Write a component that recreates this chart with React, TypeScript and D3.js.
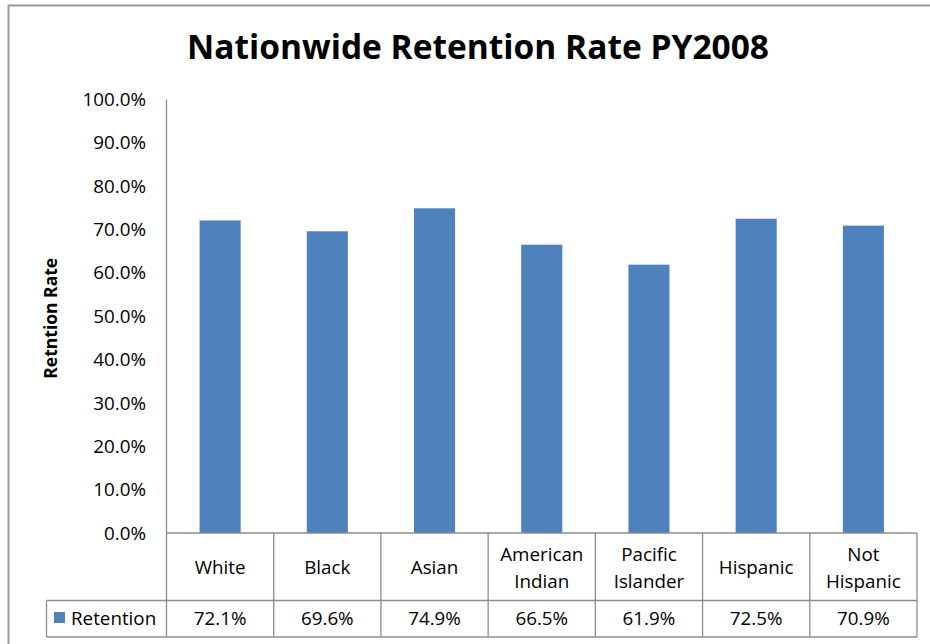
import React from "react";
import * as d3 from "d3";

const categories: string[][] = [
  ["White"],
  ["Black"],
  ["Asian"],
  ["American", "Indian"],
  ["Pacific", "Islander"],
  ["Hispanic"],
  ["Not", "Hispanic"],
];
const retention: number[] = [0.721, 0.696, 0.749, 0.665, 0.619, 0.725, 0.709];
const yTicks: number[] = [0, 0.1, 0.2, 0.3, 0.4, 0.5, 0.6, 0.7, 0.8, 0.9, 1.0];
const seriesName = "Retention";
const title = "Nationwide Retention Rate PY2008";
const yTitle = "Retntion Rate";

const W = 930;
const H = 644;
const plotL = 166.5;
const plotR = 917;
const plotT = 99.5;
const plotB = 533;
const row1B = 600.5;
const row2B = 637;
const legendL = 46.5;
const FONT = "'Open Sans', 'Liberation Sans', Arial, sans-serif";
const BAR = "#4F81BD";
const LINE = "#8C8C8C";
const FS = 18.8;

export default function App() {
  const keys = categories.map((c) => c.join(" "));
  const xCol = d3.scaleBand<string>().domain(keys).range([plotL, plotR]).padding(0);
  const xBar = d3
    .scaleBand<string>()
    .domain(keys)
    .range([plotL, plotR])
    .paddingInner(0.617)
    .paddingOuter(0.3085);
  const y = d3.scaleLinear().domain([0, 1]).range([plotB, plotT]);
  const fmt = d3.format(".1%");

  return (
    <svg
      width={W}
      height={H}
      style={{ position: "absolute", left: 0, top: 0, background: "#fff" }}
      fontFamily={FONT}
    >
      <rect x={0} y={0} width={W} height={H} fill="#fff" />
      {/* outer chart border */}
      <rect x={8.5} y={5.5} width={W + 20} height={H + 20} fill="none" stroke="#9A9A9A" strokeWidth={2} />

      {/* title */}
      <text x={478} y={58.5} textAnchor="middle" fontSize={33.5} fontWeight="bold" fill="#000">
        {title}
      </text>

      {/* y-axis title */}
      <text
        transform={`translate(57, ${(plotT + plotB) / 2 + 2}) rotate(-90)`}
        textAnchor="middle"
        fontSize={17.5}
        fontWeight="bold"
        fill="#000"
      >
        {yTitle}
      </text>

      {/* y tick labels */}
      {yTicks.map((t) => (
        <text
          key={t}
          x={146}
          y={y(t)}
          dy="0.35em"
          textAnchor="end"
          fontSize={FS}
          fill="#000"
        >
          {fmt(t)}
        </text>
      ))}

      {/* bars */}
      {keys.map((k, i) => (
        <rect
          key={k}
          x={xBar(k)}
          y={y(retention[i])}
          width={xBar.bandwidth()}
          height={plotB - y(retention[i])}
          fill={BAR}
        />
      ))}

      {/* y axis line */}
      <line x1={plotL} x2={plotL} y1={plotT} y2={row2B} stroke={LINE} strokeWidth={1.3} />

      {/* data table */}
      <line x1={plotL} x2={plotR} y1={plotB} y2={plotB} stroke={LINE} strokeWidth={1.3} />
      <line x1={legendL} x2={plotR} y1={row1B} y2={row1B} stroke={LINE} strokeWidth={1.3} />
      <line x1={legendL} x2={plotR} y1={row2B} y2={row2B} stroke={LINE} strokeWidth={1.3} />
      <line x1={legendL} x2={legendL} y1={row1B} y2={row2B} stroke={LINE} strokeWidth={1.3} />
      {keys.map((k) => (
        <line
          key={"v" + k}
          x1={(xCol(k) as number) + xCol.bandwidth()}
          x2={(xCol(k) as number) + xCol.bandwidth()}
          y1={plotB}
          y2={row2B}
          stroke={LINE}
          strokeWidth={1.3}
        />
      ))}

      {/* category labels */}
      {categories.map((lines, i) => {
        const cx = (xCol(keys[i]) as number) + xCol.bandwidth() / 2;
        const cy = (plotB + row1B) / 2 + 1;
        const lh = 26.5;
        return (
          <text key={"c" + i} x={cx} textAnchor="middle" fontSize={FS} fill="#000">
            {lines.map((ln, j) => (
              <tspan key={j} x={cx} y={cy + (j - (lines.length - 1) / 2) * lh} dy="0.35em">
                {ln}
              </tspan>
            ))}
          </text>
        );
      })}

      {/* legend cell */}
      <rect x={54} y={612} width={11} height={11} fill={BAR} />
      <text x={71} y={(row1B + row2B) / 2} dy="0.35em" fontSize={FS} fill="#000">
        {seriesName}
      </text>

      {/* values */}
      {retention.map((v, i) => (
        <text
          key={"val" + i}
          x={(xCol(keys[i]) as number) + xCol.bandwidth() / 2}
          y={(row1B + row2B) / 2}
          dy="0.35em"
          textAnchor="middle"
          fontSize={FS}
          fill="#000"
        >
          {fmt(v)}
        </text>
      ))}
    </svg>
  );
}
